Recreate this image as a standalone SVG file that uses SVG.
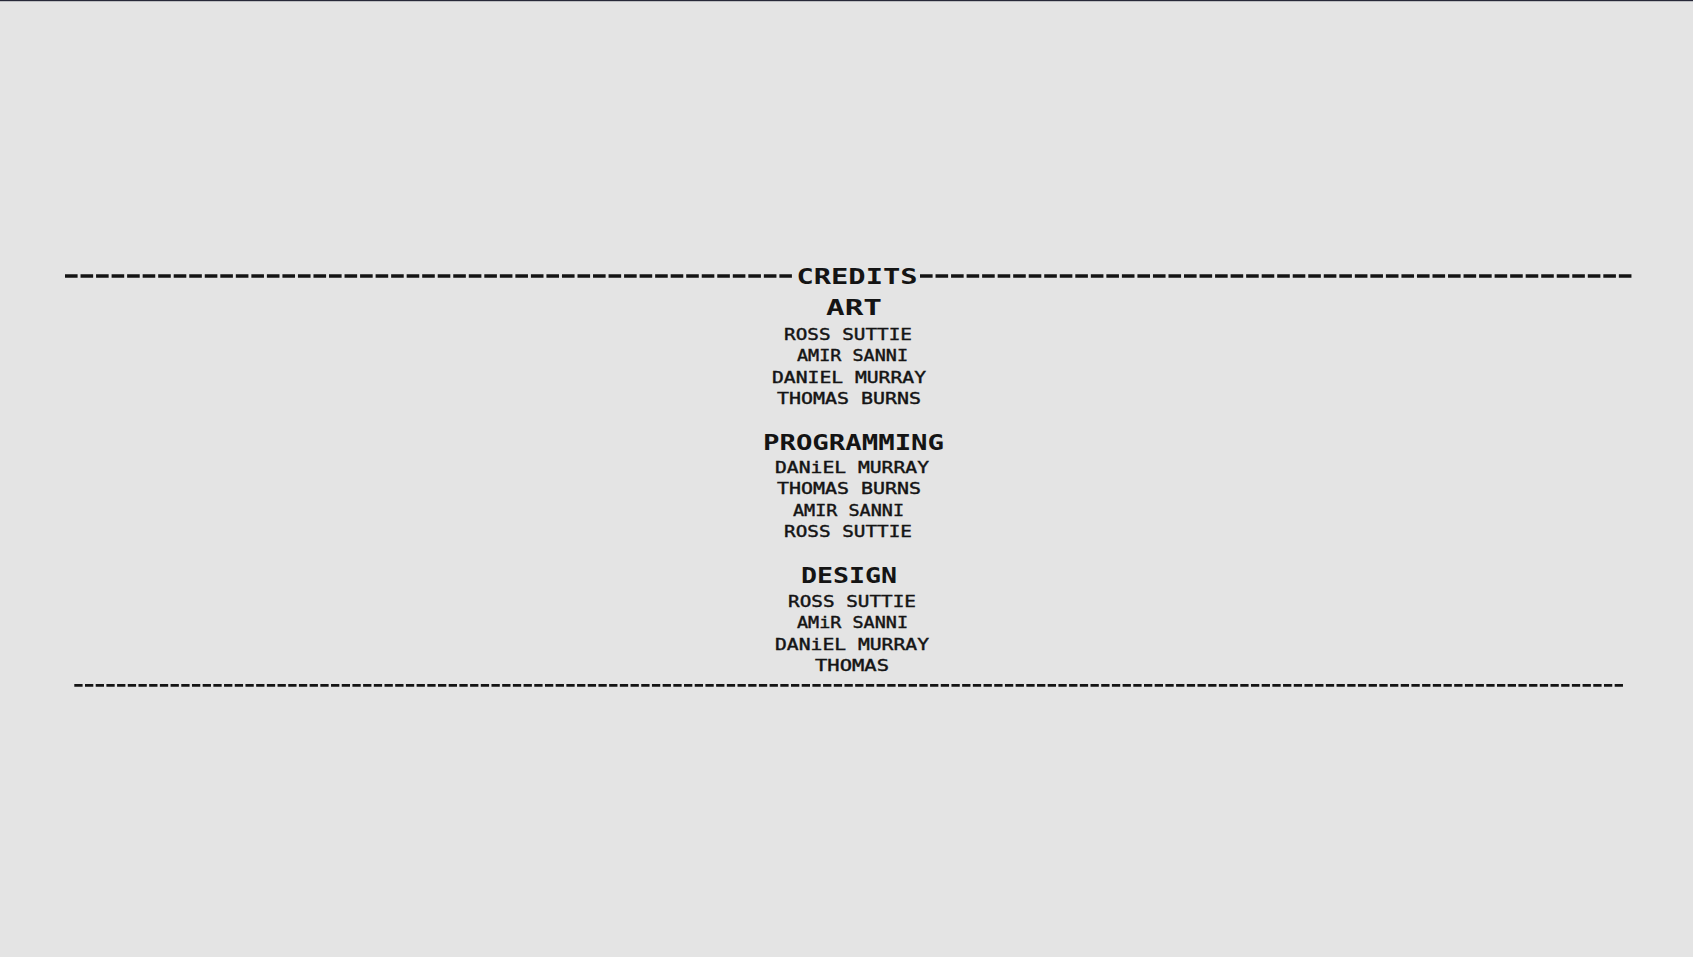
<svg xmlns="http://www.w3.org/2000/svg" width="1693" height="957" viewBox="0 0 1693 957">
<style>
.bg{fill:#e4e4e4}
.h{font-family:"DejaVu Sans Mono","Liberation Mono",monospace;font-weight:bold;fill:#141414;text-anchor:middle}
.n{font-family:"DejaVu Sans Mono","Liberation Mono",monospace;font-weight:normal;fill:#141414;text-anchor:middle;font-size:15px;stroke:#141414;stroke-width:0.4px}
.dashTop{stroke:#141414;stroke-width:3.5;stroke-dasharray:12.6 2.93;fill:none}
.dashBot{stroke:#141414;stroke-width:2.7;stroke-dasharray:8.3 2.397;fill:none}
</style>
<rect class="bg" x="0" y="0" width="1693" height="957"/>
<rect x="0" y="0" width="1693" height="1.2" fill="#272838"/>
<g id="connectors">
<line class="dashTop" x1="65" y1="276" x2="791.9" y2="276"/>
<line class="dashTop" x1="920" y1="276" x2="1632.5" y2="276"/>
<line class="dashBot" x1="74.3" y1="685.4" x2="1623.2" y2="685.4"/>
</g>
<g id="title">
<text class="h" x="857" y="283.7" font-size="21" textLength="121" lengthAdjust="spacingAndGlyphs">CREDITS</text>
</g>
<g id="art">
<text class="h" x="854" y="315" font-size="22" textLength="56" lengthAdjust="spacingAndGlyphs">ART</text>
<text class="n" x="848" y="340" textLength="128" lengthAdjust="spacingAndGlyphs">ROSS SUTTIE</text>
<text class="n" x="852.5" y="361" textLength="111" lengthAdjust="spacingAndGlyphs">AMIR SANNI</text>
<text class="n" x="849" y="383" textLength="154" lengthAdjust="spacingAndGlyphs">DANIEL MURRAY</text>
<text class="n" x="849" y="404" textLength="144" lengthAdjust="spacingAndGlyphs">THOMAS BURNS</text>
</g>
<g id="programming">
<text class="h" x="853.5" y="450" font-size="21" textLength="181" lengthAdjust="spacingAndGlyphs">PROGRAMMING</text>
<text class="n" x="852" y="473" textLength="154" lengthAdjust="spacingAndGlyphs">DANiEL MURRAY</text>
<text class="n" x="849" y="494" textLength="144" lengthAdjust="spacingAndGlyphs">THOMAS BURNS</text>
<text class="n" x="848.5" y="516" textLength="111" lengthAdjust="spacingAndGlyphs">AMIR SANNI</text>
<text class="n" x="848" y="537" textLength="128" lengthAdjust="spacingAndGlyphs">ROSS SUTTIE</text>
</g>
<g id="design">
<text class="h" x="849" y="583" font-size="21" textLength="96" lengthAdjust="spacingAndGlyphs">DESIGN</text>
<text class="n" x="852" y="607" textLength="128" lengthAdjust="spacingAndGlyphs">ROSS SUTTIE</text>
<text class="n" x="852.5" y="628" textLength="111" lengthAdjust="spacingAndGlyphs">AMiR SANNI</text>
<text class="n" x="852" y="650" textLength="154" lengthAdjust="spacingAndGlyphs">DANiEL MURRAY</text>
<text class="n" x="852" y="671" textLength="74" lengthAdjust="spacingAndGlyphs">THOMAS</text>
</g>
</svg>
